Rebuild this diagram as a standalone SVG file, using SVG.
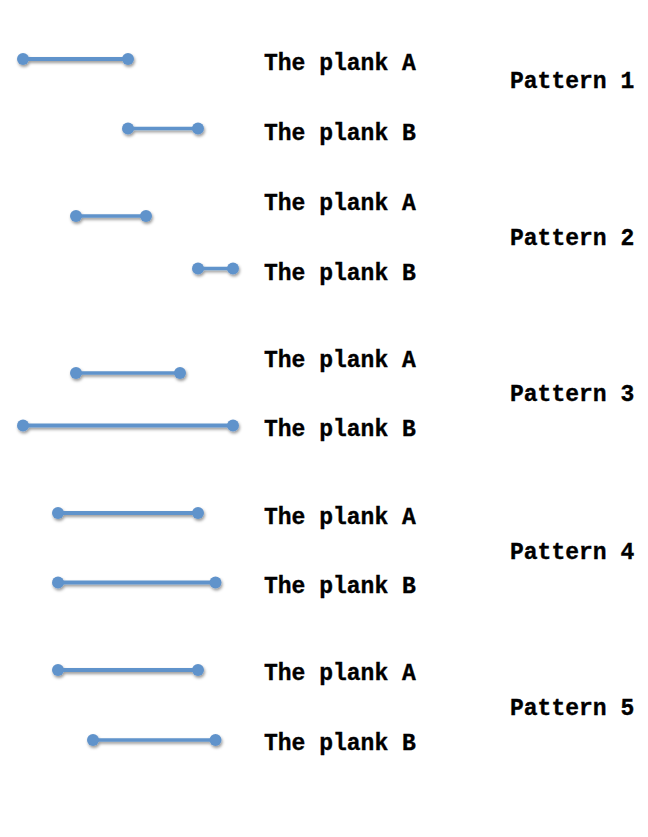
<svg xmlns="http://www.w3.org/2000/svg" width="648" height="837" viewBox="0 0 648 837">
<style>
  .plank line { stroke: #6193cb; stroke-width: 4; stroke-linecap: butt; }
  .plank circle { fill: #6193cb; }
  .plank { filter: url(#shadow); }
  text { font-family: "Liberation Mono", "Courier New", monospace; font-weight: bold; font-size: 23px; fill: #000; stroke: #000; stroke-width: 0.35; }
</style>
<defs>
  <filter id="shadow" x="-20%" y="-100%" width="140%" height="300%">
    <feDropShadow dx="1" dy="2" stdDeviation="1.5" flood-color="#000" flood-opacity="0.4"/>
  </filter>
</defs>
<rect width="648" height="837" fill="#fff"/>
<g id="connectors">
  <g id="p1a" class="plank"><line x1="23" y1="59" x2="128" y2="59"/><circle cx="23" cy="59" r="6"/><circle cx="128" cy="59" r="6"/></g>
  <g id="p1b" class="plank"><line x1="128" y1="128.5" x2="198" y2="128.5" style="stroke-width:3.5"/><circle cx="128" cy="128.5" r="6"/><circle cx="198" cy="128.5" r="6"/></g>
  <g id="p2a" class="plank"><line x1="76" y1="216" x2="146" y2="216" style="stroke-width:3.5"/><circle cx="76" cy="216" r="6"/><circle cx="146" cy="216" r="6"/></g>
  <g id="p2b" class="plank"><line x1="198" y1="268.5" x2="233" y2="268.5" style="stroke-width:3.5"/><circle cx="198" cy="268.5" r="6"/><circle cx="233" cy="268.5" r="6"/></g>
  <g id="p3a" class="plank"><line x1="76" y1="373" x2="180" y2="373" style="stroke-width:3.5"/><circle cx="76" cy="373" r="6"/><circle cx="180" cy="373" r="6"/></g>
  <g id="p3b" class="plank"><line x1="23" y1="425.5" x2="233" y2="425.5"/><circle cx="23" cy="425.5" r="6"/><circle cx="233" cy="425.5" r="6"/></g>
  <g id="p4a" class="plank"><line x1="58" y1="513" x2="198" y2="513"/><circle cx="58" cy="513" r="6"/><circle cx="198" cy="513" r="6"/></g>
  <g id="p4b" class="plank"><line x1="58" y1="582.5" x2="215.5" y2="582.5"/><circle cx="58" cy="582.5" r="6"/><circle cx="215.5" cy="582.5" r="6"/></g>
  <g id="p5a" class="plank"><line x1="58" y1="670" x2="198" y2="670"/><circle cx="58" cy="670" r="6"/><circle cx="198" cy="670" r="6"/></g>
  <g id="p5b" class="plank"><line x1="93" y1="740" x2="215.5" y2="740" style="stroke-width:3.5"/><circle cx="93" cy="740" r="6"/><circle cx="215.5" cy="740" r="6"/></g>
</g>
<g id="labels">
  <g id="pattern1">
    <text x="264" y="70">The plank A</text>
    <text x="264" y="140">The plank B</text>
    <text x="510" y="87.5">Pattern 1</text>
  </g>
  <g id="pattern2">
    <text x="264" y="210">The plank A</text>
    <text x="264" y="279.5">The plank B</text>
    <text x="510" y="245">Pattern 2</text>
  </g>
  <g id="pattern3">
    <text x="264" y="366.5">The plank A</text>
    <text x="264" y="436">The plank B</text>
    <text x="510" y="401">Pattern 3</text>
  </g>
  <g id="pattern4">
    <text x="264" y="523.5">The plank A</text>
    <text x="264" y="593">The plank B</text>
    <text x="510" y="558.5">Pattern 4</text>
  </g>
  <g id="pattern5">
    <text x="264" y="680">The plank A</text>
    <text x="264" y="750">The plank B</text>
    <text x="510" y="715">Pattern 5</text>
  </g>
</g>
</svg>
